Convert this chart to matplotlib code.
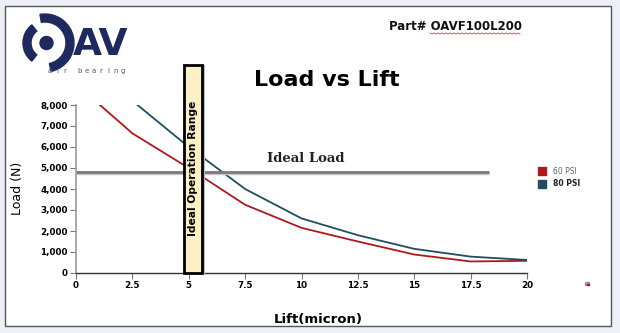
import numpy as np
import matplotlib
matplotlib.use("Agg")
import matplotlib.pyplot as plt
from matplotlib.patches import Rectangle, Circle, Wedge

# lift (micron) and load (N) for both supply pressures
lift = [0, 2.5, 5, 7.5, 10, 12.5, 15, 17.5, 20]
load_60 = [9000, 6650, 5000, 3250, 2150, 1500, 880, 550, 580]
load_80 = [10400, 8200, 6000, 4000, 2600, 1800, 1150, 780, 620]
series_names = ["60 PSI", "80 PSI"]

ideal_load = 4800
ideal_load_end = 18.3
ideal_range = (4.8, 5.6)

x_ticks = [0, 2.5, 5, 7.5, 10, 12.5, 15, 17.5, 20]
y_ticks = [0, 1000, 2000, 3000, 4000, 5000, 6000, 7000, 8000]

RED = "#b0181c"
TEAL = "#1f4f5f"
NAVY = "#1e2a5e"

W, H = 620, 333
fig = plt.figure(figsize=(W / 100, H / 100), dpi=100)
fig.patch.set_facecolor("#eef0f7")

# overlay in pixel units for frame, logo and legend
ov = fig.add_axes([0, 0, 1, 1], zorder=0)
ov.set_xlim(0, W)
ov.set_ylim(0, H)
ov.axis("off")
ov.add_patch(Rectangle((5, 333 - 326), 606, 320, facecolor="white",
                       edgecolor="#555555", lw=1.0))

# logo
cx, cy = 46, H - 43
ov.add_patch(Circle((cx + 0.5, cy), 6.5, color=NAVY))
ov.add_patch(Wedge((cx, cy), 23, 128, 232, width=8, color=NAVY))
ov.add_patch(Wedge((cx - 1, cy), 29, -78, 100, width=8, color=NAVY))
ov.text(73, H - 45, "AV", fontsize=27, fontweight="bold", color=NAVY,
        va="center", ha="left")
for i, ch in enumerate("air bearing"):
    ov.text(50 + i * 7.3, H - 71, ch, fontsize=5, color="#555555",
            ha="center", va="center")

ov.text(389, H - 27, "Part# OAVF100L200", fontsize=8.5, fontweight="bold",
        color="#111111", va="center", ha="left")
zx = np.arange(430, 521, 2)
zy = H - 33.5 + np.where(np.arange(len(zx)) % 2 == 0, 0.6, -0.6)
ov.plot(zx, zy, color="#e04040", lw=0.6)

ov.text(327, H - 80, "Load vs Lift", fontsize=16, fontweight="bold",
        color="black", ha="center", va="center")

# legend
for i, (name, col) in enumerate(zip(series_names, [RED, TEAL])):
    y0 = H - 175 - i * 13
    ov.add_patch(Rectangle((538, y0), 8, 8, color=col))
    ov.text(553, y0 + 4, name, fontsize=5.5, va="center", ha="left",
            color="#666666" if i == 0 else "#222222",
            fontweight="normal" if i == 0 else "bold")
ov.add_patch(Rectangle((585, H - 285), 4, 3, color="#999999"))
ov.add_patch(Rectangle((587, H - 285), 2, 1.5, color=RED))

# main chart
ax = fig.add_axes([76 / W, 1 - 273 / H, 451 / W, 168 / H], zorder=1)
ax.patch.set_alpha(0)
ax.plot(lift, load_60, color=RED, lw=1.3)
ax.plot(lift, load_80, color=TEAL, lw=1.3)

ax.plot([0, ideal_load_end], [ideal_load - 60] * 2, color="#c8c8c8", lw=2.5,
        solid_capstyle="butt")
ax.plot([0, ideal_load_end], [ideal_load] * 2, color="#7a7a7a", lw=2.0,
        solid_capstyle="butt")
ax.text(10.2, ideal_load + 350, "Ideal Load", family="DejaVu Serif",
        fontsize=9.5, fontweight="bold", color="#222222", ha="center",
        va="bottom")

x0, x1 = ideal_range
ax.add_patch(Rectangle((x0 + 0.12, -60), x1 - x0, 9950, facecolor="#bbbbbb",
                       edgecolor="none", clip_on=False, zorder=3))
ax.add_patch(Rectangle((x0, 0), x1 - x0, 9900, facecolor="#fdefc6",
                       edgecolor="black", lw=2.0, clip_on=False, zorder=4))
ax.text((x0 + x1) / 2, 5000, "Ideal Operation Range", rotation=90,
        fontsize=7.7, fontweight="bold", ha="center", va="center", zorder=5)

ax.set_xlim(0, 20)
ax.set_ylim(0, 8000)
ax.set_xticks(x_ticks)
ax.set_xticklabels([f"{t:g}" for t in x_ticks])
ax.set_yticks(y_ticks)
ax.set_yticklabels([f"{t:,}" for t in y_ticks])
ax.tick_params(labelsize=6.3, length=4, width=0.8, color="#777777", pad=2)
for lab in ax.get_xticklabels() + ax.get_yticklabels():
    lab.set_fontweight("bold")
for side in ["top", "right"]:
    ax.spines[side].set_visible(False)
ax.spines["left"].set_color("#999999")
ax.spines["bottom"].set_color("#333333")
ax.spines["left"].set_linewidth(1.2)
ax.spines["bottom"].set_linewidth(1.0)

fig.text(18 / W, 1 - 188 / H, "Load (N)", rotation=90, fontsize=9,
         ha="center", va="center")
fig.text(318 / W, 1 - 320 / H, "Lift(micron)", fontsize=9.5,
         fontweight="bold", ha="center", va="center")

fig.savefig("out.png", dpi=100)
